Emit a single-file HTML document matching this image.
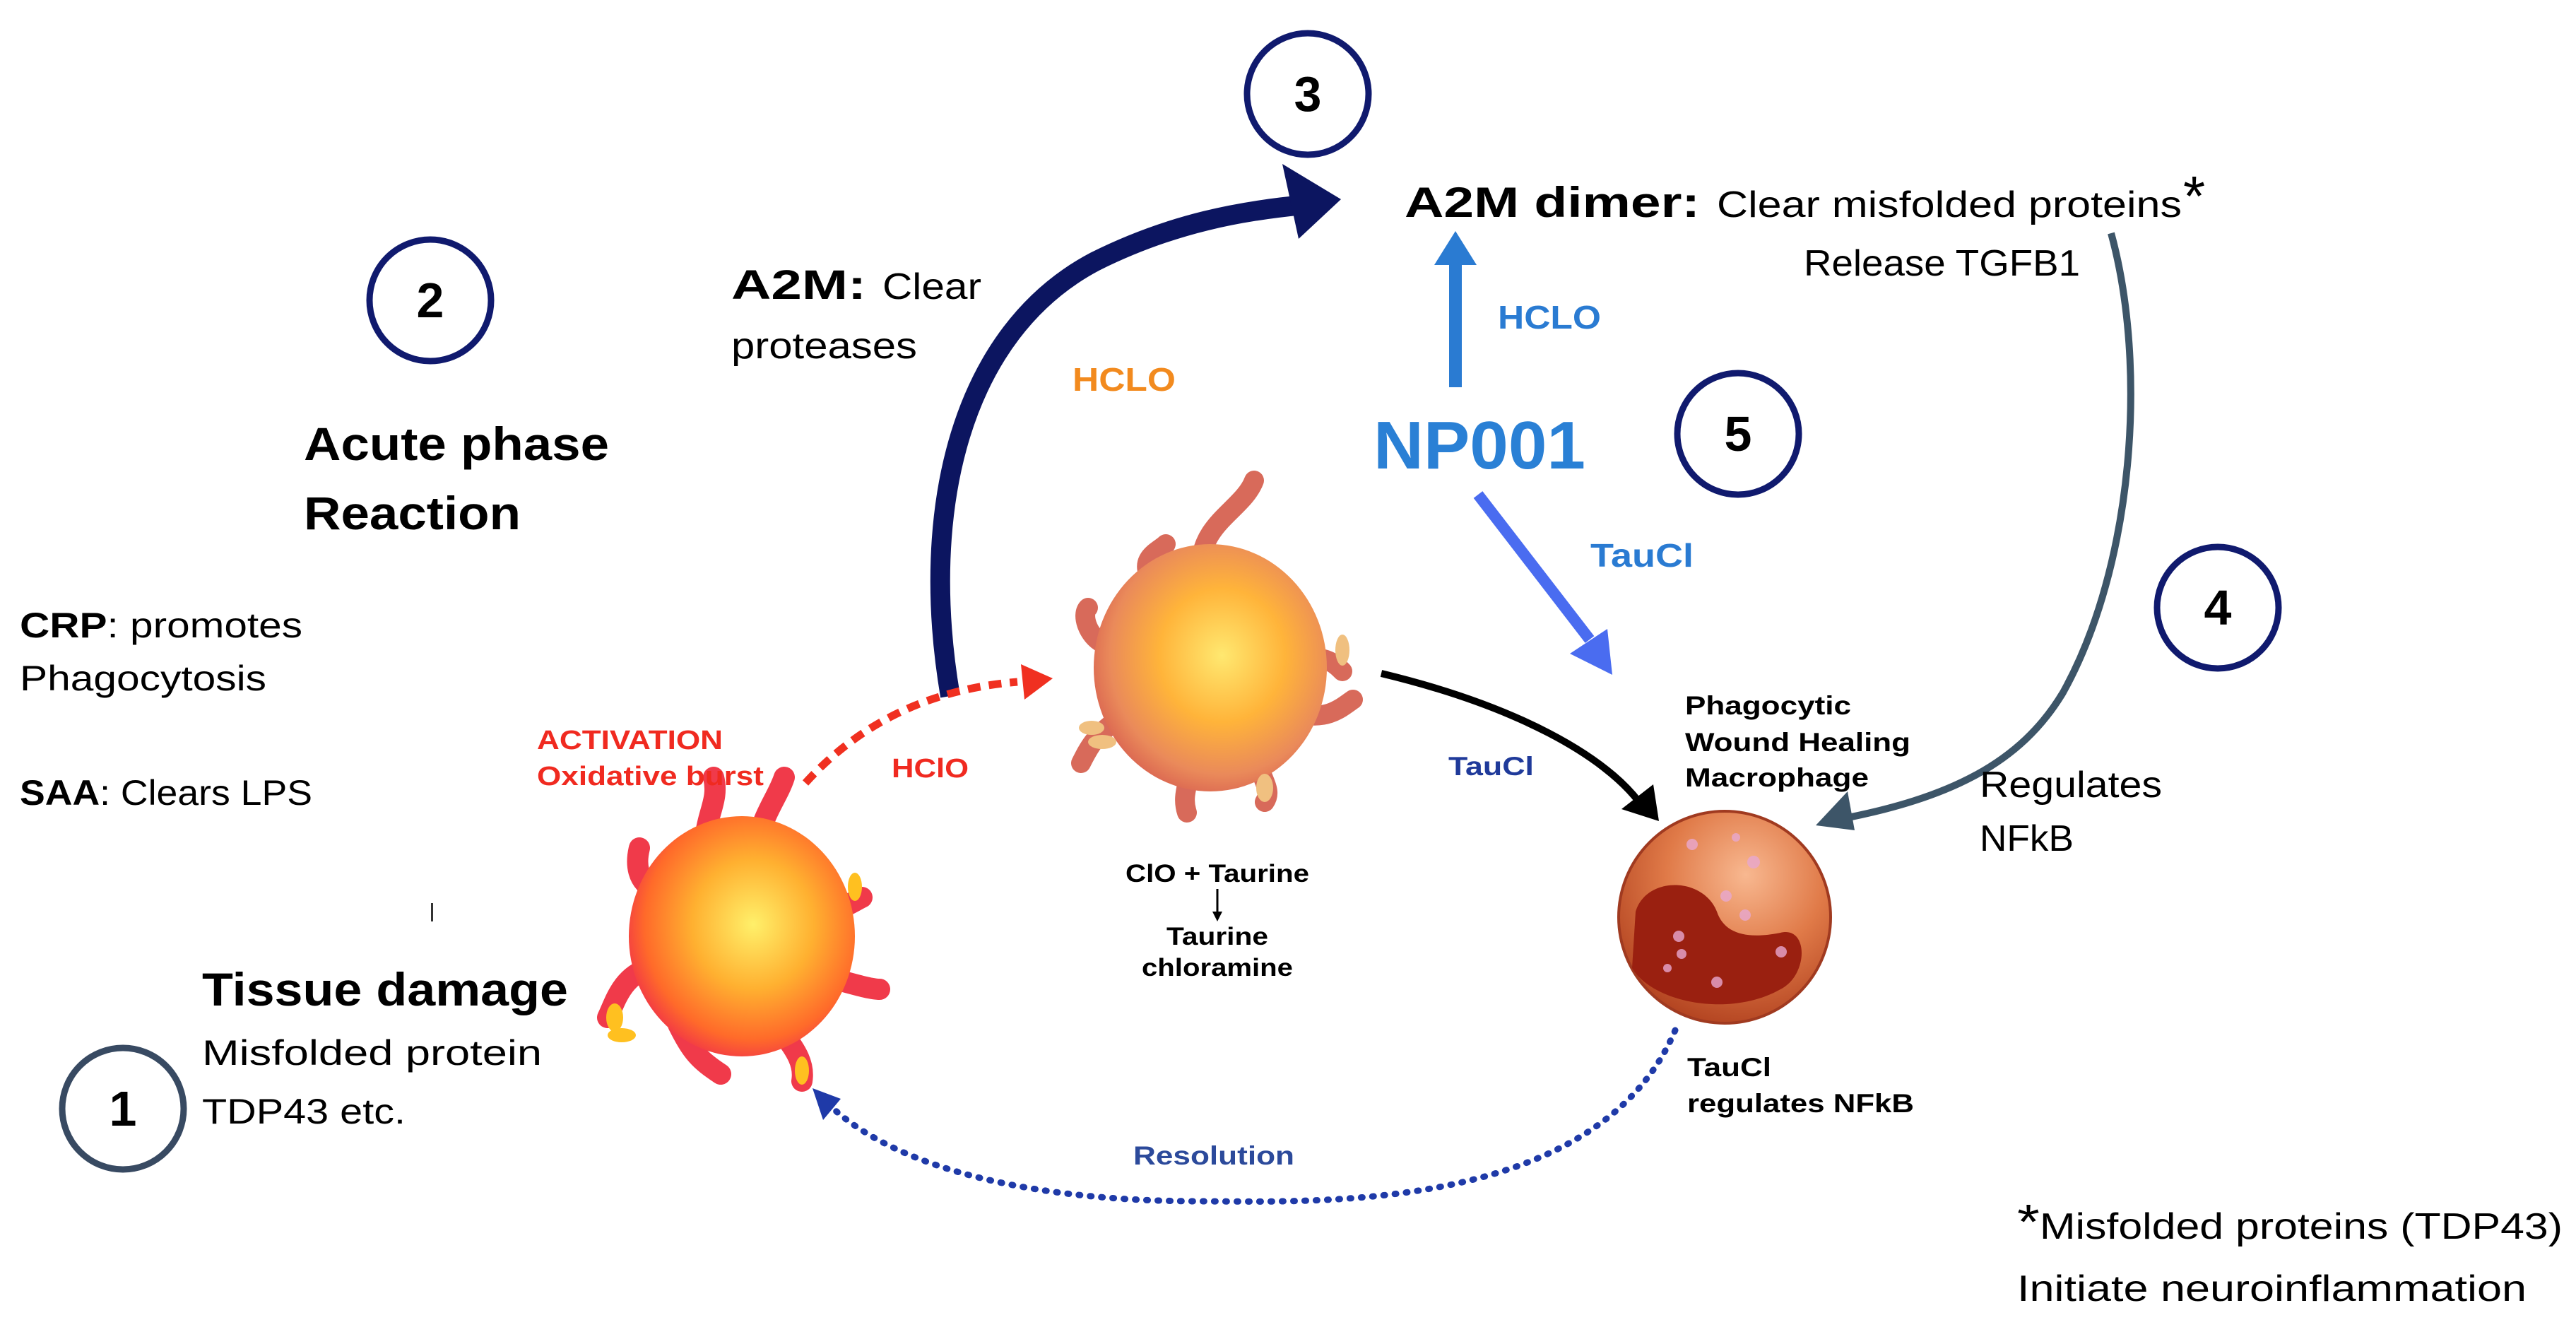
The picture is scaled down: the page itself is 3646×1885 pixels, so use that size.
<!DOCTYPE html>
<html><head><meta charset="utf-8"><style>
html,body{margin:0;padding:0;background:#fff;}
svg{display:block;}
text{font-family:"Liberation Sans",sans-serif;}
</style></head><body>
<svg width="3646" height="1885" viewBox="0 0 3646 1885" xmlns="http://www.w3.org/2000/svg">
<defs>
<radialGradient id="g1" cx="0.55" cy="0.45" r="0.6">
<stop offset="0" stop-color="#fff06a"/><stop offset="0.45" stop-color="#ffb030"/><stop offset="0.8" stop-color="#ff6a2a"/><stop offset="1" stop-color="#f0304a"/>
</radialGradient>
<radialGradient id="g2" cx="0.55" cy="0.45" r="0.6">
<stop offset="0" stop-color="#ffe870"/><stop offset="0.45" stop-color="#ffb43a"/><stop offset="0.8" stop-color="#ea8a5a"/><stop offset="1" stop-color="#d86050"/>
</radialGradient>
<radialGradient id="g3" cx="0.6" cy="0.3" r="0.75">
<stop offset="0" stop-color="#f8b890"/><stop offset="0.5" stop-color="#e07a48"/><stop offset="1" stop-color="#b0401e"/>
</radialGradient>
</defs>

<g fill="none" stroke-width="9">
<circle cx="1851" cy="133" r="86" stroke="#101a6e"/>
<circle cx="609" cy="425" r="86" stroke="#101a6e"/>
<circle cx="2460" cy="614" r="86" stroke="#101a6e"/>
<circle cx="3139" cy="860" r="86" stroke="#101a6e"/>
<circle cx="174" cy="1569" r="86" stroke="#384a62"/>
</g>
<g font-size="70" font-weight="bold" text-anchor="middle" fill="#000">
<text x="1851" y="157">3</text><text x="609" y="449">2</text><text x="2460" y="638">5</text><text x="3139" y="884">4</text><text x="174" y="1593">1</text>
</g>

<path d="M1345,985 C1300,720 1360,470 1550,370 C1660,315 1760,298 1845,290" fill="none" stroke="#0c1560" stroke-width="28"/>
<polygon points="1898,282 1815,232 1838,338" fill="#0c1560"/>

<line x1="2060" y1="548" x2="2060" y2="370" stroke="#2a7bd2" stroke-width="18"/>
<polygon points="2030,375 2090,375 2060,327" fill="#2a7bd2"/>
<line x1="2092" y1="700" x2="2250" y2="905" stroke="#4a6cf0" stroke-width="16"/>
<polygon points="2222,925 2275,890 2282,955" fill="#4a6cf0"/>

<path d="M1140,1108 C1220,1020 1320,975 1440,965" fill="none" stroke="#f03020" stroke-width="11" stroke-dasharray="18,12"/>
<polygon points="1445,940 1490,960 1450,990" fill="#f03020"/>

<path d="M1955,953 C2150,1000 2270,1070 2320,1135" fill="none" stroke="#000" stroke-width="10"/>
<polygon points="2295,1145 2348,1162 2340,1110" fill="#000"/>

<path d="M2988,330 C3040,520 3020,800 2920,980 C2860,1080 2760,1130 2600,1160" fill="none" stroke="#3d5568" stroke-width="10"/>
<polygon points="2570,1168 2615,1120 2625,1175" fill="#3d5568"/>

<path d="M2371,1458 C2260,1720 1850,1700 1700,1700 C1450,1700 1260,1650 1170,1560" fill="none" stroke="#1f3aa8" stroke-width="9" stroke-dasharray="2,14" stroke-linecap="round"/>
<polygon points="1150,1540 1190,1555 1165,1585" fill="#1f3aa8"/>

<g>
<g stroke="#f03a4a" stroke-width="30" stroke-linecap="round" fill="none">
<path d="M1000,1220 C990,1160 1020,1140 1010,1100"/>
<path d="M1070,1200 C1080,1150 1100,1130 1110,1100"/>
<path d="M930,1260 C900,1250 900,1220 905,1200"/>
<path d="M1150,1290 C1190,1290 1200,1280 1220,1270"/>
<path d="M1160,1380 C1200,1390 1230,1400 1245,1400"/>
<path d="M920,1370 C880,1380 870,1420 860,1440"/>
<path d="M960,1450 C980,1490 990,1500 1020,1520"/>
<path d="M1100,1450 C1120,1480 1140,1500 1135,1530"/>
</g>
<ellipse cx="1050" cy="1325" rx="160" ry="170" fill="url(#g1)"/>
<g fill="#ffc020"><ellipse cx="1210" cy="1255" rx="10" ry="20"/><ellipse cx="870" cy="1440" rx="12" ry="20"/><ellipse cx="1135" cy="1515" rx="10" ry="20"/><ellipse cx="880" cy="1465" rx="20" ry="10"/></g>
</g>

<g>
<g stroke="#d86a5a" stroke-width="28" stroke-linecap="round" fill="none">
<path d="M1700,800 C1700,740 1760,720 1775,680"/>
<path d="M1630,820 C1610,790 1640,780 1650,770"/>
<path d="M1560,910 C1540,900 1530,870 1540,860"/>
<path d="M1850,930 C1880,930 1890,940 1900,950"/>
<path d="M1840,1010 C1880,1020 1900,1000 1915,990"/>
<path d="M1580,1020 C1550,1040 1540,1060 1530,1080"/>
<path d="M1680,1080 C1690,1100 1670,1120 1680,1150"/>
<path d="M1780,1080 C1790,1110 1800,1120 1790,1135"/>
</g>
<ellipse cx="1713" cy="945" rx="165" ry="175" fill="url(#g2)"/>
<g fill="#f0c080"><ellipse cx="1900" cy="920" rx="10" ry="22"/><ellipse cx="1545" cy="1030" rx="18" ry="10"/><ellipse cx="1560" cy="1050" rx="20" ry="10"/><ellipse cx="1790" cy="1115" rx="12" ry="20"/></g>
</g>

<circle cx="2441" cy="1298" r="150" fill="url(#g3)" stroke="#a03a20" stroke-width="4"/>
<path d="M2315,1290 C2330,1240 2410,1240 2430,1290 C2440,1320 2470,1330 2520,1320 C2560,1310 2560,1380 2520,1400 C2450,1440 2340,1420 2310,1370 Z" fill="#9a2010"/>
<g fill="#e8a8d0" opacity="0.8"><circle cx="2395" cy="1195" r="8"/><circle cx="2457" cy="1185" r="6"/><circle cx="2482" cy="1220" r="9"/><circle cx="2443" cy="1268" r="8"/><circle cx="2470" cy="1295" r="8"/><circle cx="2376" cy="1325" r="8"/><circle cx="2380" cy="1350" r="7"/><circle cx="2430" cy="1390" r="8"/><circle cx="2521" cy="1347" r="8"/><circle cx="2360" cy="1370" r="6"/></g>

<text x="1988" y="307" font-size="60" font-weight="bold" textLength="418" lengthAdjust="spacingAndGlyphs">A2M dimer:</text>
<text x="2430" y="307" font-size="52" textLength="658" lengthAdjust="spacingAndGlyphs">Clear misfolded proteins</text>
<text x="3090" y="305" font-size="80">*</text>
<text x="2553" y="390" font-size="52" textLength="391" lengthAdjust="spacingAndGlyphs">Release TGFB1</text>
<text x="1035" y="423" font-size="58" font-weight="bold" textLength="191" lengthAdjust="spacingAndGlyphs">A2M:</text>
<text x="1249" y="423" font-size="52" textLength="140" lengthAdjust="spacingAndGlyphs">Clear</text>
<text x="1035" y="507" font-size="52" textLength="263" lengthAdjust="spacingAndGlyphs">proteases</text>
<text x="1518" y="553" font-size="46" font-weight="bold" fill="#f28a1e" textLength="146" lengthAdjust="spacingAndGlyphs">HCLO</text>
<text x="2120" y="465" font-size="46" font-weight="bold" fill="#2a7bd2" textLength="146" lengthAdjust="spacingAndGlyphs">HCLO</text>
<text x="1944" y="663" font-size="96" font-weight="bold" fill="#2a80d5" textLength="300" lengthAdjust="spacingAndGlyphs">NP001</text>
<text x="2251" y="802" font-size="46" font-weight="bold" fill="#2a7bd2" textLength="146" lengthAdjust="spacingAndGlyphs">TauCl</text>
<text x="430" y="651" font-size="66" font-weight="bold" textLength="432" lengthAdjust="spacingAndGlyphs">Acute phase</text>
<text x="430" y="749" font-size="66" font-weight="bold" textLength="307" lengthAdjust="spacingAndGlyphs">Reaction</text>
<text x="28" y="902" font-size="50" textLength="400" lengthAdjust="spacingAndGlyphs"><tspan font-weight="bold">CRP</tspan>: promotes</text>
<text x="28" y="977" font-size="50" textLength="349" lengthAdjust="spacingAndGlyphs">Phagocytosis</text>
<text x="28" y="1139" font-size="50" textLength="414" lengthAdjust="spacingAndGlyphs"><tspan font-weight="bold">SAA</tspan>: Clears LPS</text>
<rect x="610" y="1278" width="3" height="26" fill="#333"/>
<text x="286" y="1423" font-size="66" font-weight="bold" textLength="518" lengthAdjust="spacingAndGlyphs">Tissue damage</text>
<text x="286" y="1507" font-size="50" textLength="481" lengthAdjust="spacingAndGlyphs">Misfolded protein</text>
<text x="286" y="1590" font-size="50" textLength="288" lengthAdjust="spacingAndGlyphs">TDP43 etc.</text>
<g font-weight="bold" fill="#f02a20">
<text x="760" y="1060" font-size="38" textLength="263" lengthAdjust="spacingAndGlyphs">ACTIVATION</text>
<text x="760" y="1111" font-size="38" textLength="321" lengthAdjust="spacingAndGlyphs">Oxidative burst</text>
<text x="1262" y="1100" font-size="38" textLength="109" lengthAdjust="spacingAndGlyphs">HClO</text>
</g>
<g font-weight="bold" font-size="35">
<text x="1593" y="1248" textLength="260" lengthAdjust="spacingAndGlyphs">ClO + Taurine</text>
<text x="1651" y="1337" textLength="144" lengthAdjust="spacingAndGlyphs">Taurine</text>
<text x="1616" y="1381" textLength="214" lengthAdjust="spacingAndGlyphs">chloramine</text>
<text x="2385" y="1011" font-size="37" textLength="235" lengthAdjust="spacingAndGlyphs">Phagocytic</text>
<text x="2385" y="1063" font-size="37" textLength="319" lengthAdjust="spacingAndGlyphs">Wound Healing</text>
<text x="2385" y="1113" font-size="37" textLength="260" lengthAdjust="spacingAndGlyphs">Macrophage</text>
<text x="2388" y="1523" font-size="37" textLength="119" lengthAdjust="spacingAndGlyphs">TauCl</text>
<text x="2388" y="1574" font-size="37" textLength="321" lengthAdjust="spacingAndGlyphs">regulates NFkB</text>
<text x="2050" y="1097" font-size="37" fill="#1f3a9a" textLength="121" lengthAdjust="spacingAndGlyphs">TauCl</text>
<text x="1604" y="1648" font-size="37" fill="#2c4a9b" textLength="228" lengthAdjust="spacingAndGlyphs">Resolution</text>
</g>
<line x1="1723" y1="1258" x2="1723" y2="1295" stroke="#000" stroke-width="3"/>
<polygon points="1716,1290 1730,1290 1723,1304" fill="#000"/>
<text x="2802" y="1128" font-size="52" textLength="258" lengthAdjust="spacingAndGlyphs">Regulates</text>
<text x="2802" y="1204" font-size="52" textLength="133" lengthAdjust="spacingAndGlyphs">NFkB</text>
<text x="2855" y="1753" font-size="52" textLength="772" lengthAdjust="spacingAndGlyphs"><tspan font-size="70">*</tspan>Misfolded proteins (TDP43)</text>
<text x="2855" y="1841" font-size="52" textLength="721" lengthAdjust="spacingAndGlyphs">Initiate neuroinflammation</text>
</svg>
</body></html>
